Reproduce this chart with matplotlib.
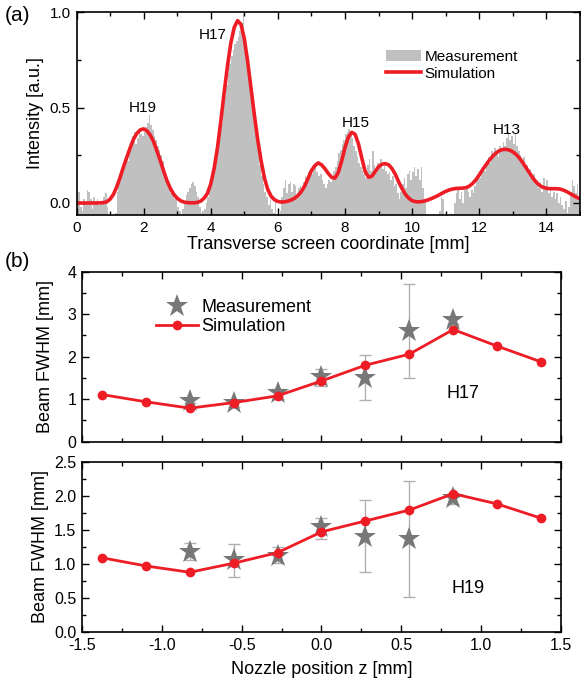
import numpy as np
import matplotlib
matplotlib.use("Agg")
import matplotlib.pyplot as plt
from matplotlib.ticker import MultipleLocator
from matplotlib.patches import Patch
from matplotlib.lines import Line2D

plt.rcParams['font.family'] = ['Liberation Sans', 'DejaVu Sans']

# ---------------- Panel (a) data ----------------
bin_width = 0.05
meas_profile = [
    # 0-1 mm
    0.05, 0.06, -0.02, -0.04, 0.02, 0.0, 0.07, 0.06, 0.02, -0.03, 0.03, 0.01, 0.02, -0.01, 0.0, 0.01, 0.03, 0.05, -0.02, -0.06,
    # 1-2 mm
    -0.07, -0.07, -0.07, -0.05, 0.06, 0.12, 0.14, 0.16, 0.2, 0.24, 0.22, 0.28, 0.3, 0.35, 0.37, 0.31, 0.34, 0.38, 0.36, 0.35,
    # 2-3 mm
    0.37, 0.4, 0.42, 0.46, 0.41, 0.38, 0.35, 0.33, 0.3, 0.28, 0.25, 0.22, 0.17, 0.14, 0.1, 0.08, 0.05, 0.04, 0.02, 0.03,
    # 3-4 mm
    -0.02, -0.04, -0.07, -0.03, 0.01, 0.04, 0.06, 0.08, 0.1, 0.11, 0.09, 0.06, 0.03, -0.02, -0.05, -0.04, -0.03, 0.0, 0.03, 0.08,
    # 4-5 mm
    0.12, 0.15, 0.19, 0.24, 0.3, 0.36, 0.42, 0.48, 0.56, 0.62, 0.68, 0.73, 0.77, 0.8, 0.83, 0.85, 0.87, 0.9, 0.94, 0.99,
    # 5-6 mm
    0.86, 0.78, 0.7, 0.62, 0.55, 0.47, 0.4, 0.33, 0.26, 0.2, 0.14, 0.1, 0.06, 0.03, -0.01, 0.02, -0.03, -0.05, 0.01, -0.06,
    # 6-7 mm
    -0.07, -0.04, 0.03, 0.08, 0.12, 0.05, 0.1, 0.11, 0.06, 0.1, 0.09, 0.04, 0.08, 0.09, 0.05, 0.11, 0.14, 0.12, 0.16, 0.17,
    # 7-8 mm
    0.15, 0.18, 0.19, 0.16, 0.14, 0.15, 0.12, 0.1, 0.08, 0.1, 0.12, 0.11, 0.14, 0.17, 0.19, 0.22, 0.26, 0.28, 0.31, 0.33,
    # 8-9 mm
    0.36, 0.37, 0.39, 0.36, 0.34, 0.3, 0.27, 0.24, 0.21, 0.19, 0.17, 0.15, 0.13, 0.2, 0.23, 0.17, 0.27, 0.2, 0.18, 0.21,
    # 9-10 mm
    0.19, 0.23, 0.18, 0.2, 0.17, 0.15, 0.16, 0.12, 0.14, 0.09, 0.1, 0.05, 0.02, 0.06, 0.1, 0.13, 0.08, 0.15, 0.17, 0.12,
    # 10-11 mm
    0.16, 0.19, 0.14, 0.18, 0.12, 0.19, 0.08, 0.02, -0.07, -0.07, -0.07, -0.07, -0.07, -0.07, -0.07, -0.07, -0.04, 0.03, 0.02, -0.07,
    # 11-12 mm
    -0.07, -0.07, -0.07, -0.05, -0.07, 0.0, 0.05, 0.07, 0.02, 0.06, 0.0, 0.07, 0.08, 0.06, 0.03, 0.07, 0.05, 0.09, 0.12, 0.14,
    # 12-13 mm
    0.13, 0.16, 0.19, 0.17, 0.22, 0.24, 0.21, 0.27, 0.25, 0.29, 0.26, 0.24, 0.3, 0.28, 0.32, 0.3, 0.34, 0.37, 0.33, 0.35,
    # 13-14 mm
    0.31, 0.36, 0.3, 0.27, 0.25, 0.22, 0.24, 0.19, 0.2, 0.16, 0.18, 0.14, 0.15, 0.11, 0.12, 0.08, 0.11, 0.06, 0.13, 0.09,
    # 14-15 mm
    0.12, 0.05, 0.08, 0.03, 0.06, 0.02, 0.05, 0.0, 0.03, -0.01, -0.03, 0.01, -0.05, -0.02, 0.06, 0.12, 0.09, 0.05, 0.1, 0.03,
]

sim_x = [round(0.1 * i, 1) for i in range(151)]
sim_profile = [
    0.0, 0.0, 0.0, 0.0, 0.0, 0.0, 0.0, 0.001, 0.002, 0.006,
    0.02, 0.045, 0.085, 0.135, 0.19, 0.24, 0.29, 0.335, 0.365, 0.383,
    0.388, 0.378, 0.355, 0.32, 0.27, 0.22, 0.165, 0.115, 0.075, 0.045,
    0.025, 0.012, 0.005, 0.002, 0.001, 0.001, 0.003, 0.01, 0.025, 0.05,
    0.1, 0.18, 0.29, 0.43, 0.58, 0.72, 0.84, 0.92, 0.955, 0.935,
    0.86, 0.74, 0.6, 0.46, 0.33, 0.22, 0.13, 0.07, 0.035, 0.017,
    0.008, 0.005, 0.006, 0.01, 0.016, 0.025, 0.04, 0.06, 0.09, 0.13,
    0.17, 0.195, 0.21, 0.2, 0.18, 0.155, 0.135, 0.13, 0.16, 0.22,
    0.29, 0.345, 0.37, 0.36, 0.31, 0.235, 0.165, 0.135, 0.14, 0.165,
    0.19, 0.203, 0.206, 0.2, 0.18, 0.15, 0.11, 0.075, 0.045, 0.025,
    0.012, 0.007, 0.006, 0.008, 0.012, 0.018, 0.025, 0.033, 0.042, 0.052,
    0.061, 0.068, 0.073, 0.076, 0.077, 0.078, 0.08, 0.088, 0.102, 0.122,
    0.147, 0.175, 0.2, 0.224, 0.245, 0.262, 0.274, 0.28, 0.281, 0.277,
    0.268, 0.254, 0.235, 0.21, 0.183, 0.155, 0.13, 0.108, 0.092, 0.082,
    0.077, 0.075, 0.075, 0.075, 0.073, 0.068, 0.06, 0.05, 0.04, 0.03,
    0.022,
]

harmonic_labels = ["H19", "H17", "H15", "H13"]
harmonic_label_pos = [(1.98, 0.50), (4.06, 0.88), (8.33, 0.42), (12.82, 0.38)]

# ---------------- Panel (b) data ----------------
z_sim = [-1.375, -1.1, -0.825, -0.55, -0.275, 0.0, 0.275, 0.55, 0.825, 1.1, 1.375]
h17_sim = [1.11, 0.94, 0.79, 0.92, 1.08, 1.43, 1.80, 2.06, 2.64, 2.25, 1.88]
h19_sim = [1.09, 0.97, 0.877, 1.01, 1.165, 1.47, 1.63, 1.79, 2.03, 1.88, 1.67]

z_meas = [-0.825, -0.55, -0.275, 0.0, 0.275, 0.55, 0.825]
h17_meas = [0.95, 0.90, 1.14, 1.52, 1.50, 2.60, 2.86]
h17_err_low = [0.05, 0.08, 0.13, 0.22, 0.52, 1.10, 0.08]
h17_err_high = [0.05, 0.08, 0.10, 0.20, 0.55, 1.10, 0.08]
h19_meas = [1.17, 1.05, 1.12, 1.54, 1.40, 1.36, 1.96]
h19_err_low = [0.11, 0.24, 0.11, 0.18, 0.52, 0.85, 0.08]
h19_err_high = [0.13, 0.24, 0.13, 0.14, 0.54, 0.86, 0.08]

RED = "#ee1c25"
HIST_GRAY = "#c0c0c0"
STAR_GRAY = "#777777"
ERR_GRAY = "#b0b0b0"

fig = plt.figure(figsize=(5.81, 6.87), dpi=100)

def style_axes(ax, tick_size=11):
    ax.tick_params(which='both', direction='in', top=True, right=True, labelsize=tick_size, pad=4)
    ax.tick_params(which='major', length=5, width=1.0)
    ax.tick_params(which='minor', length=3, width=1.0)
    for s in ax.spines.values():
        s.set_linewidth(1.2)

# ---- panel (a)
axa = fig.add_axes([0.1317, 0.687, 0.8665, 0.2955])
ymin_a = -0.063
centers = np.arange(len(meas_profile)) * bin_width + bin_width / 2
vals = np.array(meas_profile)
axa.bar(centers, vals - ymin_a, bottom=ymin_a, width=bin_width, color=HIST_GRAY,
        linewidth=0, align='center')
axa.plot(sim_x, sim_profile, color=RED, lw=2.6, solid_capstyle='round')
axa.set_xlim(0, 15)
axa.set_ylim(ymin_a, 1.0)
axa.xaxis.set_major_locator(MultipleLocator(2))
axa.xaxis.set_minor_locator(MultipleLocator(1))
axa.yaxis.set_major_locator(MultipleLocator(0.5))
axa.yaxis.set_minor_locator(MultipleLocator(0.25))
axa.yaxis.set_major_formatter(matplotlib.ticker.FormatStrFormatter('%.1f'))
style_axes(axa)
axa.set_xlabel("Transverse screen coordinate [mm]", fontsize=13, labelpad=1)
axa.set_ylabel("Intensity [a.u.]", fontsize=13, labelpad=4)
for lab, (xx, yy) in zip(harmonic_labels, harmonic_label_pos):
    axa.text(xx, yy, lab, fontsize=11, ha='center', va='center')
handles_a = [Patch(facecolor=HIST_GRAY, edgecolor='none'),
             Line2D([0], [0], color=RED, lw=2.6)]
axa.legend(handles_a, ["Measurement", "Simulation"], loc='upper left',
           bbox_to_anchor=(0.603, 0.845), frameon=False, fontsize=11,
           handlelength=2.3, handletextpad=0.2, labelspacing=0.2, borderaxespad=0)

# ---- panel (b)
axb1 = fig.add_axes([0.1411, 0.357, 0.8245, 0.2475])
axb2 = fig.add_axes([0.1411, 0.080, 0.8245, 0.248])

def draw_b(ax, sim, meas, elo, ehi):
    ax.errorbar(z_meas, meas, yerr=[elo, ehi], fmt='none', ecolor=ERR_GRAY,
                elinewidth=1.0, capsize=4, capthick=1.0, zorder=1)
    ax.plot(z_meas, meas, linestyle='none', marker='*', markersize=17,
            color=STAR_GRAY, markeredgewidth=0, zorder=2)
    ax.plot(z_sim, sim, color=RED, lw=2, marker='o', markersize=7,
            markeredgewidth=0, zorder=3)
    ax.set_xlim(-1.5, 1.5)
    ax.xaxis.set_major_locator(MultipleLocator(0.5))
    ax.xaxis.set_minor_locator(MultipleLocator(0.25))
    style_axes(ax, tick_size=11.5)

draw_b(axb1, h17_sim, h17_meas, h17_err_low, h17_err_high)
axb1.set_ylim(0, 4)
axb1.yaxis.set_major_locator(MultipleLocator(1))
axb1.yaxis.set_minor_locator(MultipleLocator(0.5))
axb1.tick_params(labelbottom=False)
axb1.set_ylabel("Beam FWHM [mm]", fontsize=13, labelpad=10)
axb1.text(0.885, 1.14, "H17", fontsize=13, ha='center', va='center')
handles_b = [Line2D([0], [0], linestyle='none', marker='*', markersize=17,
                    color=STAR_GRAY, markeredgewidth=0),
             Line2D([0], [0], color=RED, lw=2, marker='o', markersize=7, markeredgewidth=0)]
axb1.legend(handles_b, ["Measurement", "Simulation"], loc='upper left',
            bbox_to_anchor=(0.14, 0.88), frameon=False, fontsize=13,
            handlelength=2.3, handletextpad=0.2, labelspacing=0.1, borderaxespad=0)

draw_b(axb2, h19_sim, h19_meas, h19_err_low, h19_err_high)
axb2.set_ylim(0, 2.5)
axb2.yaxis.set_major_locator(MultipleLocator(0.5))
axb2.yaxis.set_minor_locator(MultipleLocator(0.25))
axb2.yaxis.set_major_formatter(matplotlib.ticker.FormatStrFormatter('%.1f'))
axb2.xaxis.set_major_formatter(matplotlib.ticker.FormatStrFormatter('%.1f'))
axb2.set_xlabel("Nozzle position z [mm]", fontsize=13, labelpad=6)
axb2.set_ylabel("Beam FWHM [mm]", fontsize=13, labelpad=4)
axb2.text(0.92, 0.64, "H19", fontsize=13, ha='center', va='center')

fig.text(0.008, 0.978, "(a)", fontsize=15, ha='left', va='center')
fig.text(0.008, 0.620, "(b)", fontsize=15, ha='left', va='center')

fig.savefig("out.png", dpi=100)
